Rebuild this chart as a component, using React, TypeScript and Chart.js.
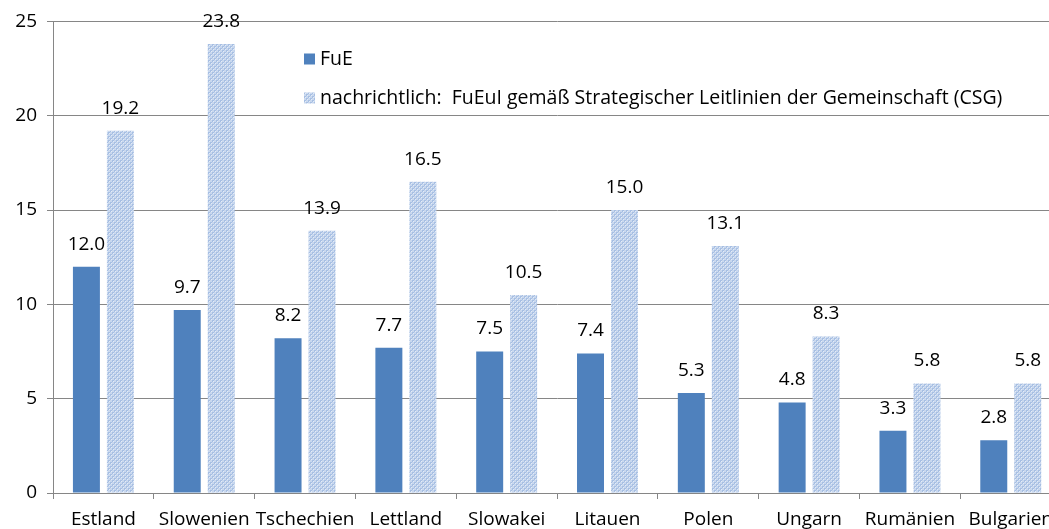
import React, { useEffect, useRef } from "react";
import { Chart, registerables } from "chart.js";

Chart.register(...registerables);

const categories = ["Estland", "Slowenien", "Tschechien", "Lettland", "Slowakei", "Litauen", "Polen", "Ungarn", "Rumänien", "Bulgarien"];
const fueValues = [12.0, 9.7, 8.2, 7.7, 7.5, 7.4, 5.3, 4.8, 3.3, 2.8];
const csgValues = [19.2, 23.8, 13.9, 16.5, 10.5, 15.0, 13.1, 8.3, 5.8, 5.8];
const seriesNames = ["FuE", "nachrichtlich:  FuEuI gemäß Strategischer Leitlinien der Gemeinschaft (CSG)"];
const yTicks = [0, 5, 10, 15, 20, 25];

const FONT = "'Open Sans', 'DejaVu Sans', sans-serif";
const BLUE = "#4F81BD";

function makePattern(): CanvasPattern | string {
  const c = document.createElement("canvas");
  c.width = 4;
  c.height = 4;
  const ctx = c.getContext("2d");
  if (!ctx) return "#B9CDE5";
  ctx.fillStyle = "#C9D8EE";
  ctx.fillRect(0, 0, 4, 4);
  ctx.fillStyle = "#A7BFE3";
  ctx.fillRect(0, 0, 2, 2);
  ctx.fillRect(2, 2, 2, 2);
  ctx.fillStyle = "#E3ECF8";
  ctx.fillRect(1, 1, 1, 1);
  ctx.fillRect(3, 3, 1, 1);
  const p = ctx.createPattern(c, "repeat");
  return p || "#B9CDE5";
}

export default function App() {
  const ref = useRef<HTMLCanvasElement>(null);
  useEffect(() => {
    document.body.style.margin = "0";
    const canvas = ref.current;
    if (!canvas) return;
    const pattern = makePattern();

    const labelPlugin = {
      id: "barLabels",
      afterDatasetsDraw(chart: any) {
        const ctx = chart.ctx;
        ctx.save();
        ctx.font = `19px ${FONT}`;
        ctx.fillStyle = "#000";
        ctx.textAlign = "center";
        ctx.textBaseline = "bottom";
        chart.data.datasets.forEach((ds: any, i: number) => {
          const meta = chart.getDatasetMeta(i);
          meta.data.forEach((bar: any, j: number) => {
            const v = ds.data[j] as number;
            ctx.fillText(v.toFixed(1), bar.x, bar.y - 13);
          });
        });
        ctx.restore();
      },
    };

    const legendPlugin = {
      id: "customLegend",
      afterDraw(chart: any) {
        const ctx = chart.ctx;
        ctx.save();
        ctx.font = `19.5px ${FONT}`;
        ctx.textBaseline = "middle";
        ctx.textAlign = "left";
        const items = [
          { y: 59, fill: BLUE },
          { y: 98, fill: pattern },
        ];
        items.forEach((it, i) => {
          ctx.fillStyle = it.fill as any;
          ctx.fillRect(304, it.y - 5.5, 11, 11);
          ctx.fillStyle = "#000";
          ctx.fillText(seriesNames[i], 320, it.y);
        });
        ctx.restore();
      },
    };

    const chart = new Chart(canvas, {
      type: "bar",
      data: {
        labels: categories,
        datasets: [
          { label: seriesNames[0], data: fueValues, backgroundColor: BLUE, categoryPercentage: 0.674, barPercentage: 0.794 },
          { label: seriesNames[1], data: csgValues, backgroundColor: pattern as any, categoryPercentage: 0.674, barPercentage: 0.794 },
        ],
      },
      options: {
        animation: false,
        responsive: false,
        maintainAspectRatio: false,
        layout: { padding: { top: 20, right: 0, left: 0, bottom: 0 } },
        plugins: {
          legend: { display: false },
          tooltip: { enabled: false },
        },
        scales: {
          x: {
            offset: true,
            grid: {
              display: true,
              offset: true,
              drawOnChartArea: false,
              drawTicks: true,
              tickLength: 6,
              color: "#868686",
            },
            border: { display: true, color: "#868686", width: 1 },
            ticks: {
              color: "#000",
              font: { family: FONT, size: 19 },
              padding: 9,
              maxRotation: 0,
              autoSkip: false,
            },
            afterFit(scale: any) {
              scale.height = 36;
            },
          },
          y: {
            min: 0,
            max: 25,
            afterBuildTicks(scale: any) {
              scale.ticks = yTicks.map((v) => ({ value: v }));
            },
            grid: {
              color: "#868686",
              tickLength: 6,
              drawTicks: true,
            },
            border: { display: true, color: "#868686", width: 1 },
            ticks: {
              color: "#000",
              font: { family: FONT, size: 19 },
              padding: 10,
            },
            afterFit(scale: any) {
              scale.width = 53;
            },
          },
        },
      },
      plugins: [labelPlugin, legendPlugin],
    });
    return () => chart.destroy();
  }, []);
  return (
    <div style={{ width: 1049, height: 529, overflow: "hidden" }}>
      <canvas ref={ref} width={1062} height={529} style={{ display: "block" }} />
    </div>
  );
}
